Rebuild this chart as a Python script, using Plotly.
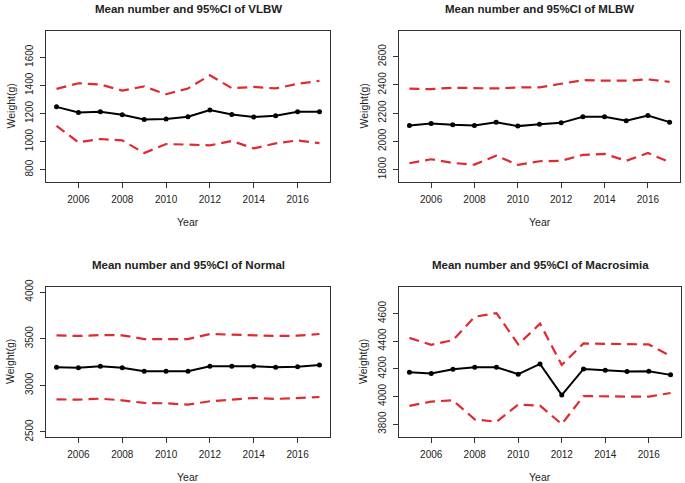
import plotly.graph_objects as go

years = list(range(2005, 2018))

vlbw_mean = [1247, 1207, 1212, 1190, 1157, 1160, 1176, 1224, 1193, 1174, 1183, 1212, 1212]
vlbw_upper = [1375, 1415, 1406, 1363, 1392, 1337, 1378, 1472, 1380, 1389, 1378, 1411, 1432]
vlbw_lower = [1112, 994, 1018, 1008, 918, 982, 978, 973, 1004, 951, 987, 1008, 989]

mlbw_mean = [2112, 2127, 2117, 2112, 2136, 2108, 2122, 2131, 2174, 2174, 2146, 2183, 2136]
mlbw_upper = [2373, 2370, 2380, 2380, 2375, 2382, 2382, 2408, 2434, 2430, 2430, 2439, 2422]
mlbw_lower = [1845, 1873, 1847, 1835, 1899, 1833, 1859, 1862, 1904, 1911, 1862, 1918, 1852]

normal_mean = [3193, 3189, 3204, 3189, 3150, 3150, 3150, 3204, 3204, 3204, 3193, 3200, 3218]
normal_upper = [3536, 3529, 3539, 3536, 3496, 3496, 3496, 3550, 3543, 3539, 3529, 3532, 3550]
normal_lower = [2850, 2846, 2857, 2839, 2811, 2807, 2793, 2829, 2846, 2864, 2854, 2864, 2875]

macro_mean = [4175, 4166, 4197, 4211, 4211, 4161, 4235, 4010, 4199, 4190, 4180, 4182, 4156]
macro_upper = [4423, 4373, 4407, 4576, 4602, 4376, 4526, 4228, 4383, 4380, 4376, 4376, 4292]
macro_lower = [3932, 3963, 3972, 3834, 3817, 3941, 3934, 3800, 4003, 3999, 3999, 3999, 4025]

titles = ["Mean number and 95%CI of VLBW", "Mean number and 95%CI of MLBW",
          "Mean number and 95%CI of Normal", "Mean number and 95%CI of Macrosimia"]
x_ticks = [2006, 2008, 2010, 2012, 2014, 2016]
y_ticks = [
    [800, 1000, 1200, 1400, 1600],
    [1800, 2000, 2200, 2400, 2600],
    [2500, 3000, 3500, 4000],
    [3800, 4000, 4200, 4400, 4600],
]
y_ranges = [[712, 1787], [1712, 2782], [2446, 4054], [3707, 4791]]
series = [
    (vlbw_mean, vlbw_upper, vlbw_lower),
    (mlbw_mean, mlbw_upper, mlbw_lower),
    (normal_mean, normal_upper, normal_lower),
    (macro_mean, macro_upper, macro_lower),
]

W, H = 685, 483
# panel boxes in pixels (left, right, top, bottom)
boxes = [(46, 330, 31, 182), (399, 680, 31, 182), (46, 330, 287, 437), (399, 681, 287, 437)]

RED = "#e02a2f"
TXT = "#222222"
FONT = "Liberation Sans, Arial, sans-serif"

fig = go.Figure()
annotations = []
layout = {}
for i, (box, (m, u, l)) in enumerate(zip(boxes, series)):
    n = "" if i == 0 else str(i + 1)
    xa, ya = "x" + n, "y" + n
    for vals in (u, l):
        fig.add_trace(go.Scatter(x=years, y=vals, mode="lines", xaxis=xa, yaxis=ya,
                                 line=dict(color=RED, width=2.2, dash="10px,6px"),
                                 showlegend=False, hoverinfo="skip", cliponaxis=False))
    fig.add_trace(go.Scatter(x=years, y=m, mode="lines+markers", xaxis=xa, yaxis=ya,
                             line=dict(color="black", width=2),
                             marker=dict(color="black", size=5),
                             showlegend=False, cliponaxis=False))
    L, R, T, B = box
    xd = [L / W, R / W]
    yd = [1 - B / H, 1 - T / H]
    common = dict(showline=True, mirror=True, linecolor="#333333", linewidth=1.2,
                  ticks="outside", ticklen=5, tickwidth=1, tickcolor="#333333",
                  showgrid=False, zeroline=False, automargin=False,
                  tickfont=dict(family=FONT, size=10, color=TXT))
    layout["xaxis" + n] = dict(domain=xd, range=[2004.52, 2017.48], tickvals=x_ticks,
                               anchor=ya, ticklabelstandoff=3, **common)
    layout["yaxis" + n] = dict(domain=yd, range=y_ranges[i], tickvals=y_ticks[i],
                               anchor=xa, tickangle=-90, ticklabelstandoff=3, **common)
    cx = (L + R) / 2 / W
    annotations.append(dict(text="<b>" + titles[i] + "</b>", x=cx, y=1 - (T - 22) / H,
                            xanchor="center", yanchor="middle",
                            xref="paper", yref="paper", showarrow=False,
                            font=dict(family=FONT, size=11.5, color=TXT)))
    annotations.append(dict(text="Year", x=cx, y=1 - (B + 40) / H,
                            xanchor="center", yanchor="middle",
                            xref="paper", yref="paper", showarrow=False,
                            font=dict(family=FONT, size=10.5, color=TXT)))
    annotations.append(dict(text="Weight(g)", x=(L - 36) / W, y=(yd[0] + yd[1]) / 2,
                            xanchor="center", yanchor="middle",
                            xref="paper", yref="paper", showarrow=False, textangle=-90,
                            font=dict(family=FONT, size=10.5, color=TXT)))

fig.update_layout(width=W, height=H, margin=dict(l=0, r=0, t=0, b=0, autoexpand=False),
                  paper_bgcolor="white", plot_bgcolor="white", showlegend=False,
                  annotations=annotations, **layout)
fig.write_html("out.html", config={"displayModeBar": False},
               post_script="document.body.style.margin='0';document.body.style.overflow='hidden';")
